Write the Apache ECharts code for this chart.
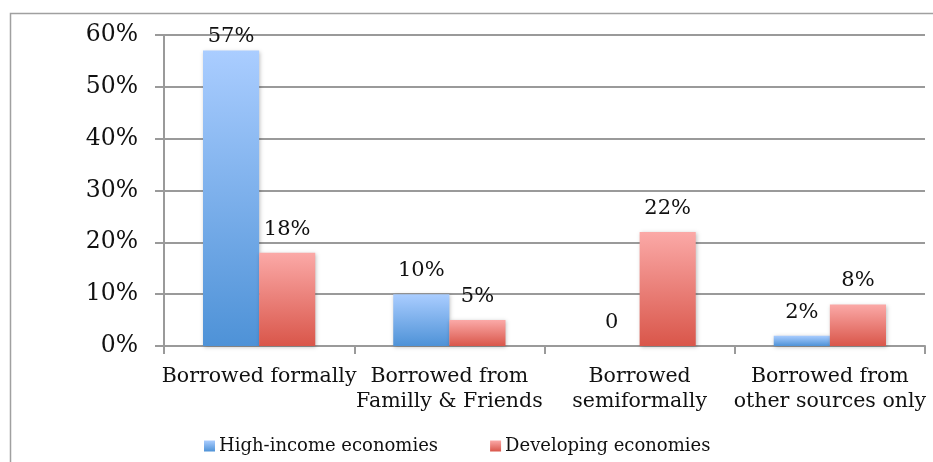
<!DOCTYPE html>
<html>
<head>
<meta charset="utf-8">
<script src="https://cdn.jsdelivr.net/npm/echarts@6/dist/echarts.min.js"></script>
<style>html,body{margin:0;padding:0;background:#fff}#c{width:933px;height:462px}</style>
</head>
<body>
<div id="c"></div>
<script>
const categories = ['Borrowed formally', 'Borrowed from\nFamilly & Friends', 'Borrowed\nsemiformally', 'Borrowed from\nother sources only'];
const seriesNames = ['High-income economies', 'Developing economies'];
const highIncome = [57, 10, 0, 2];
const developing = [18, 5, 22, 8];
const yTicks = [0, 10, 20, 30, 40, 50, 60];

const FONT = 'DejaVu Serif';
function grad(top, bottom) {
  return new echarts.graphic.LinearGradient(0, 0, 0, 1, [
    {offset: 0, color: top}, {offset: 1, color: bottom}
  ]);
}
const blue = grad('#AACDFF', '#4E92D7');
const red = grad('#FBA9A7', '#D9564A');

function mkData(arr) {
  return arr.map(v => v > 55 ? {value: v, label: {distance: 4}} : v);
}
function mkSeries(name, arr, color) {
  return {
    name: name, type: 'bar', data: mkData(arr),
    barGap: '0%', barCategoryGap: '41%',
    itemStyle: {color: color, shadowColor: 'rgba(0,0,0,0.25)', shadowBlur: 4, shadowOffsetX: 1, shadowOffsetY: 1},
    label: {show: true, position: 'top', distance: 13, fontFamily: FONT, fontSize: 21, color: '#111',
      formatter: p => p.value === 0 ? '0' : p.value + '%'}
  };
}

const chart = echarts.init(document.getElementById('c'));
chart.setOption({
  animation: false,
  textStyle: {fontFamily: FONT},
  graphic: [{type: 'rect', left: 8, top: 11, shape: {width: 1000, height: 500}, style: {fill: 'none', stroke: '#a0a0a0', lineWidth: 1.5}, z: -1}],
  grid: {left: 164, right: 8, top: 35, bottom: 116, containLabel: false},
  legend: {
    data: seriesNames, left: 199, top: 432, itemWidth: 11, itemHeight: 11, itemGap: 52,
    icon: 'rect',
    textStyle: {fontFamily: FONT, fontSize: 18, color: '#111', padding: [0, 0, 0, -1]}
  },
  xAxis: {
    type: 'category', data: categories,
    axisLine: {lineStyle: {color: '#9a9a9a', width: 2}},
    axisTick: {show: true, length: 8, lineStyle: {color: '#9a9a9a', width: 2}},
    axisLabel: {fontFamily: FONT, fontSize: 20.5, color: '#111', margin: 18, lineHeight: 25, interval: 0}
  },
  yAxis: {
    type: 'value', min: yTicks[0], max: yTicks[yTicks.length - 1], interval: 10,
    axisLine: {show: true, lineStyle: {color: '#9a9a9a', width: 2}},
    axisTick: {show: true, length: 9, lineStyle: {color: '#9a9a9a', width: 2}},
    splitLine: {lineStyle: {color: '#9a9a9a', width: 2}},
    axisLabel: {fontFamily: FONT, fontSize: 23.5, color: '#111', margin: 26, formatter: v => v + '%'}
  },
  series: [mkSeries(seriesNames[0], highIncome, blue), mkSeries(seriesNames[1], developing, red)]
});
</script>
</body>
</html>
